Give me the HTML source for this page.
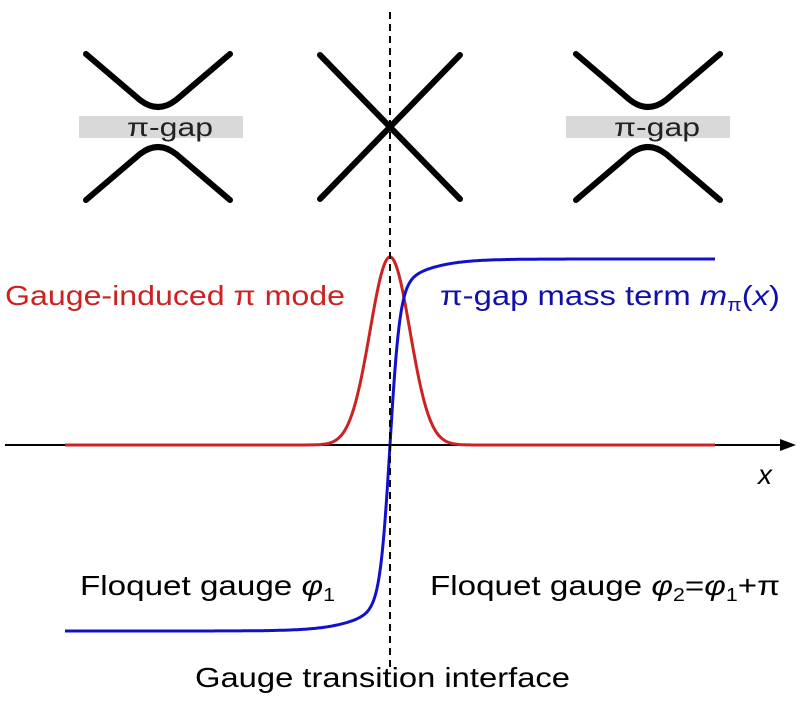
<!DOCTYPE html>
<html><head><meta charset="utf-8"><style>
html,body{margin:0;padding:0;background:#fff;}
svg{display:block;}
text{font-family:"Liberation Sans",Arial,sans-serif;}
</style></head><body>
<svg id="s" width="805" height="708" viewBox="0 0 805 708" xmlns="http://www.w3.org/2000/svg">
<rect x="79" y="116" width="164" height="22" fill="#d9d9d9"/>
<rect x="566" y="116" width="164" height="22" fill="#d9d9d9"/>
<g fill="none" stroke="#000" stroke-width="6" stroke-linecap="round">
<path d="M86,54 L140,100 Q158,114 176,100 L230,54"/>
<path d="M86,200 L140,154 Q158,140 176,154 L230,200"/>
<path d="M320,55 L460,199 M460,55 L320,199"/>
<path d="M576,54 L630,100 Q648,114 666,100 L720,54"/>
<path d="M576,200 L630,154 Q648,140 666,154 L720,200"/>
</g>
<text x="127" y="136" font-size="26" textLength="86" lengthAdjust="spacingAndGlyphs" fill="#222">π-gap</text>
<text x="614" y="136" font-size="26" textLength="86" lengthAdjust="spacingAndGlyphs" fill="#222">π-gap</text>
<line x1="5" y1="445" x2="785" y2="445" stroke="#000" stroke-width="2"/>
<path d="M796,445 L780,439 L780,451 Z" fill="#000"/>
<path id="red" fill="none" stroke="#cc2222" stroke-width="3"/>
<path id="blue" fill="none" stroke="#1111cc" stroke-width="3"/>
<line x1="390" y1="12" x2="390" y2="668" stroke="#000" stroke-width="2" stroke-dasharray="7,5"/>
<text x="5" y="305" font-size="28" textLength="340" lengthAdjust="spacingAndGlyphs" fill="#cc2222">Gauge-induced π mode</text>
<text x="440" y="305" font-size="28" textLength="340" lengthAdjust="spacingAndGlyphs" fill="#1111aa">π-gap mass term <tspan font-style="italic">m</tspan><tspan font-size="18" dy="6">π</tspan><tspan dy="-6">(</tspan><tspan font-style="italic">x</tspan>)</text>
<text x="758" y="484" font-size="28" font-style="italic" fill="#000">x</text>
<text x="80" y="595" font-size="28" textLength="255" lengthAdjust="spacingAndGlyphs" fill="#000">Floquet gauge <tspan font-style="italic">φ</tspan><tspan font-size="18" dy="6">1</tspan></text>
<text x="430" y="595" font-size="28" textLength="350" lengthAdjust="spacingAndGlyphs" fill="#000">Floquet gauge <tspan font-style="italic">φ</tspan><tspan font-size="18" dy="6">2</tspan><tspan dy="-6">=</tspan><tspan font-style="italic">φ</tspan><tspan font-size="18" dy="6">1</tspan><tspan dy="-6">+π</tspan></text>
<text x="195" y="687" font-size="28" textLength="375" lengthAdjust="spacingAndGlyphs" fill="#000">Gauge transition interface</text>
</svg>
<script>
var r="",b="";
for(var x=65;x<=715;x+=1){
 var d=x-390;
 var yr=445-188*Math.exp(-d*d/(2*20*20));
 var yb=445-186*(Math.tanh(d/10)*0.85+0.15*Math.tanh(d/50));
 r+=(x==65?"M":"L")+x+","+yr.toFixed(1);
 b+=(x==65?"M":"L")+x+","+yb.toFixed(1);
}
document.getElementById("red").setAttribute("d",r);
document.getElementById("blue").setAttribute("d",b);
</script>
</body></html>
